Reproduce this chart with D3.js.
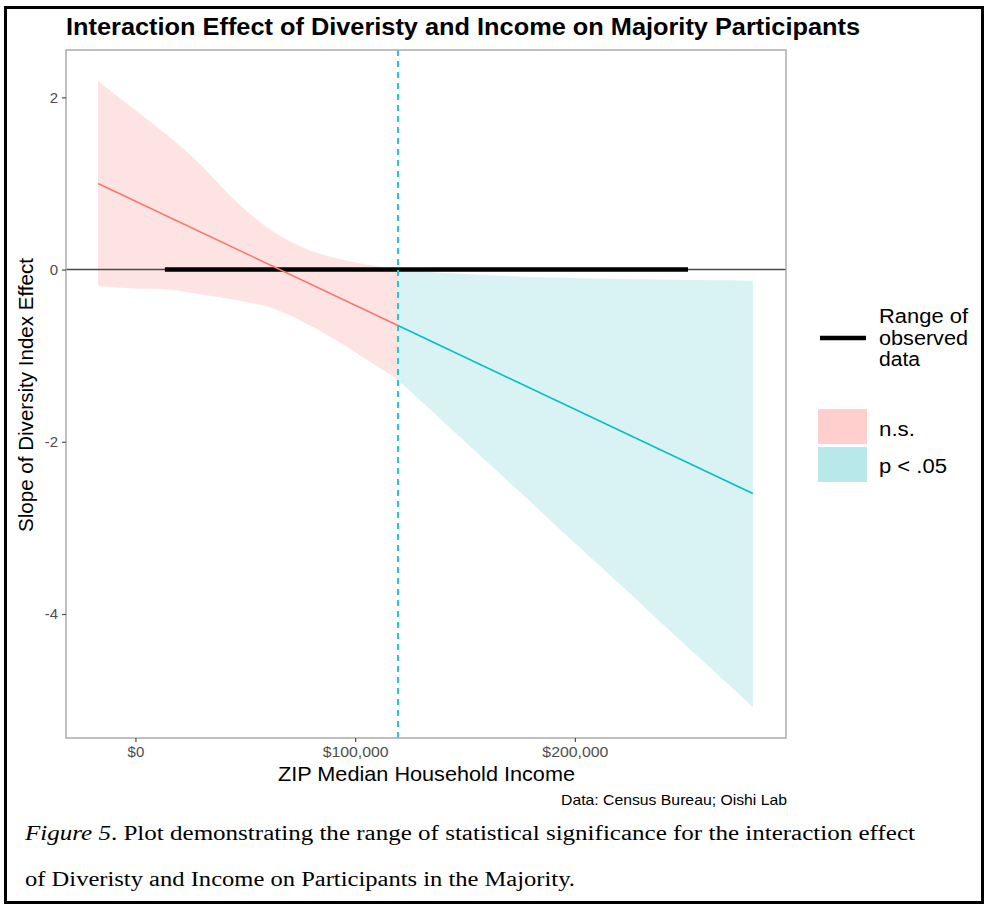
<!DOCTYPE html>
<html>
<head>
<meta charset="utf-8">
<script src="https://cdn.jsdelivr.net/npm/d3@7"></script>
<style>
  html, body { margin: 0; padding: 0; background: #fff; }
  svg { display: block; }
</style>
</head>
<body>
<svg id="chart" width="989" height="909"></svg>
<script>
// Johnson-Neyman style plot: slope of diversity effect across ZIP median income

// Not-significant region (left of the boundary)
const nsIncome = [-17000, 0, 15000, 30000, 45000, 60000, 75000, 90000, 105000, 119500];
const nsUpper  = [2.19, 1.85, 1.55, 1.21, 0.81, 0.49, 0.27, 0.14, 0.06, 0.0];
const nsLower  = [-0.19, -0.22, -0.23, -0.29, -0.35, -0.43, -0.59, -0.80, -1.04, -1.28];

// Significant region (right of the boundary)
const sigIncome = [119500, 135000, 150000, 165000, 180000, 195000, 210000, 225000, 240000, 255000, 270000, 281000];
const sigUpper  = [0.0, -0.03, -0.05, -0.07, -0.085, -0.095, -0.105, -0.11, -0.115, -0.12, -0.125, -0.13];
const sigLower  = [-1.28, -1.645, -2.0, -2.35, -2.70, -3.06, -3.41, -3.76, -4.12, -4.47, -4.82, -5.08];

// Estimated simple slope
const nsSlopeIncome  = [-17000, 119500];
const nsSlope        = [1.0, -0.65];
const sigSlopeIncome = [119500, 281000];
const sigSlope       = [-0.65, -2.60];

// Range of observed income and the significance boundary
const observedRange = [13400, 251500];
const jnBoundary = 119500;

const xTicks = [0, 100000, 200000];
const xTickLabels = ["$0", "$100,000", "$200,000"];
const yTicks = [-4, -2, 0, 2];
const yTickLabels = ["-4", "-2", "0", "2"];

const legendItems = ["n.s.", "p < .05"];
const legendLineLabel = ["Range of", "observed", "data"];

const svg = d3.select("#chart");
const font = "'Liberation Sans', Arial, Helvetica, sans-serif";

const panel = { left: 66, right: 786, top: 50, bottom: 738 };

const x = d3.scaleLinear().domain([-31600, 296100]).range([panel.left, panel.right]);
const y = d3.scaleLinear().domain([-5.44, 2.55]).range([panel.bottom, panel.top]);

// fit a text node to a given width
function fit(sel, w) {
  return sel.attr("textLength", w).attr("lengthAdjust", "spacingAndGlyphs");
}

// outer frame
svg.append("rect")
  .attr("x", 5.5).attr("y", 7.5).attr("width", 977).attr("height", 895)
  .attr("fill", "none").attr("stroke", "#000").attr("stroke-width", 3);

svg.append("defs").append("clipPath").attr("id", "panel-clip")
  .append("rect")
  .attr("x", panel.left).attr("y", panel.top)
  .attr("width", panel.right - panel.left).attr("height", panel.bottom - panel.top);

const plot = svg.append("g").attr("clip-path", "url(#panel-clip)");

const area = d3.area().curve(d3.curveMonotoneX)
  .x(d => x(d[0])).y0(d => y(d[2])).y1(d => y(d[1]));
const line = d3.line().x(d => x(d[0])).y(d => y(d[1]));

plot.append("path")
  .datum(nsIncome.map((v, i) => [v, nsUpper[i], nsLower[i]]))
  .attr("d", area).attr("fill", "#FDE4E3");
plot.append("path")
  .datum(sigIncome.map((v, i) => [v, sigUpper[i], sigLower[i]]))
  .attr("d", area).attr("fill", "#D9F2F3");

// zero reference
plot.append("line")
  .attr("x1", panel.left).attr("x2", panel.right)
  .attr("y1", y(0)).attr("y2", y(0))
  .attr("stroke", "#4a4a4a").attr("stroke-width", 1.5);

// observed data range
plot.append("line")
  .attr("x1", x(observedRange[0])).attr("x2", x(observedRange[1]))
  .attr("y1", y(0)).attr("y2", y(0))
  .attr("stroke", "#000").attr("stroke-width", 4.5);

// slope estimate
plot.append("path")
  .datum(nsSlopeIncome.map((v, i) => [v, nsSlope[i]]))
  .attr("d", line).attr("fill", "none").attr("stroke", "#F8766D").attr("stroke-width", 1.5);
plot.append("path")
  .datum(sigSlopeIncome.map((v, i) => [v, sigSlope[i]]))
  .attr("d", line).attr("fill", "none").attr("stroke", "#00BFC4").attr("stroke-width", 1.5);

// significance boundary
plot.append("line")
  .attr("x1", x(jnBoundary)).attr("x2", x(jnBoundary))
  .attr("y1", panel.top).attr("y2", panel.bottom)
  .attr("stroke", "#2EC4CB").attr("stroke-width", 2)
  .attr("stroke-dasharray", "6,5");

// panel border
svg.append("rect")
  .attr("x", panel.left).attr("y", panel.top)
  .attr("width", panel.right - panel.left).attr("height", panel.bottom - panel.top)
  .attr("fill", "none").attr("stroke", "#ABABAB").attr("stroke-width", 1.5);

// axes
const xAxis = svg.append("g")
  .attr("transform", `translate(0,${panel.bottom})`)
  .call(d3.axisBottom(x).tickValues(xTicks).tickSize(4).tickPadding(4)
    .tickFormat((d, i) => xTickLabels[i]));
const yAxis = svg.append("g")
  .attr("transform", `translate(${panel.left},0)`)
  .call(d3.axisLeft(y).tickValues(yTicks).tickSize(4).tickPadding(4)
    .tickFormat((d, i) => yTickLabels[i]));
[xAxis, yAxis].forEach(g => {
  g.select(".domain").remove();
  g.selectAll(".tick line").attr("stroke", "#4D4D4D").attr("stroke-width", 1.2);
  g.selectAll(".tick text").attr("fill", "#4D4D4D")
    .style("font-family", font).style("font-size", "15px");
});
xAxis.selectAll(".tick text").each(function (d, i) {
  if (i > 0) fit(d3.select(this), 66);
});

// titles
fit(svg.append("text"), 794)
  .attr("x", 66).attr("y", 35)
  .style("font-family", font).style("font-weight", "bold").style("font-size", "23.5px")
  .attr("fill", "#000")
  .text("Interaction Effect of Diveristy and Income on Majority Participants");

fit(svg.append("text"), 297)
  .attr("x", 278).attr("y", 781)
  .style("font-family", font).style("font-size", "21px").attr("fill", "#000")
  .text("ZIP Median Household Income");

fit(svg.append("text"), 274)
  .attr("transform", `translate(33,532) rotate(-90)`)
  .style("font-family", font).style("font-size", "20px").attr("fill", "#000")
  .text("Slope of Diversity Index Effect");

fit(svg.append("text"), 226)
  .attr("x", 561).attr("y", 805)
  .style("font-family", font).style("font-size", "14.5px").attr("fill", "#000")
  .text("Data: Census Bureau; Oishi Lab");

// legend: observed range
const lg = svg.append("g");
lg.append("line")
  .attr("x1", 820).attr("x2", 866).attr("y1", 338).attr("y2", 338)
  .attr("stroke", "#000").attr("stroke-width", 4.5);
const lineLabelW = [89, 89, 41];
legendLineLabel.forEach((t, i) => {
  fit(lg.append("text"), lineLabelW[i])
    .attr("x", 879).attr("y", 323 + i * 21.5)
    .style("font-family", font).style("font-size", "19.5px").attr("fill", "#000")
    .text(t);
});

// legend: significance fills
const keyFill = ["#FFCFCD", "#B8E8EA"];
const itemW = [36, 68];
legendItems.forEach((t, i) => {
  lg.append("rect")
    .attr("x", 818).attr("y", 409 + i * 38).attr("width", 49).attr("height", 35)
    .attr("fill", keyFill[i]);
  fit(lg.append("text"), itemW[i])
    .attr("x", 879).attr("y", 436 + i * 37)
    .style("font-family", font).style("font-size", "19.5px").attr("fill", "#000")
    .text(t);
});

// figure caption
const serif = "'Liberation Serif', 'Times New Roman', serif";
const cap1 = fit(svg.append("text"), 890)
  .attr("x", 25).attr("y", 840)
  .style("font-family", serif).style("font-size", "20px").attr("fill", "#000");
cap1.append("tspan").style("font-style", "italic").text("Figure 5");
cap1.append("tspan").text(".  Plot demonstrating the range of statistical significance for the interaction effect");

fit(svg.append("text"), 550)
  .attr("x", 25).attr("y", 886)
  .style("font-family", serif).style("font-size", "20px").attr("fill", "#000")
  .text("of Diveristy and Income on Participants in the Majority.");
</script>
</body>
</html>
